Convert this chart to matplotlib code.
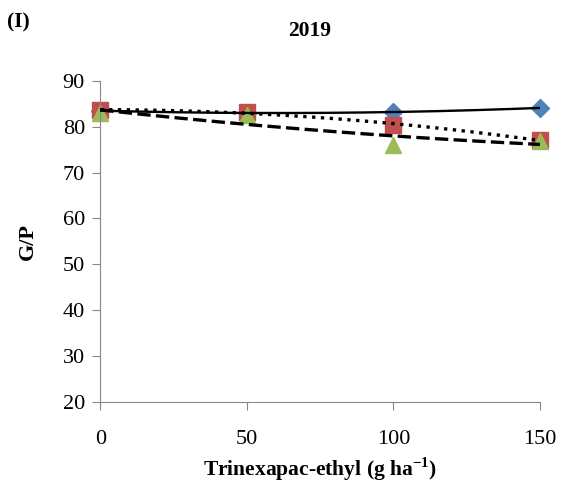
import numpy as np
import matplotlib
matplotlib.use("Agg")
from matplotlib import pyplot as plt

plt.rcParams['font.family'] = ['Liberation Serif', 'DejaVu Serif']

doses = [0, 50, 100, 150]
series_diamond = [83.5, 83.0, 83.2, 84.1]
series_square = [83.6, 83.3, 80.3, 77.1]
series_triangle = [83.0, 82.5, 76.0, 76.8]

fig = plt.figure(figsize=(5.63, 4.93), dpi=100)
ax = fig.add_axes([0.178, 0.185, 0.781, 0.651])

x_fine = np.linspace(0, 150, 200)
styles = [
    (series_diamond, 'D', '#4F81BD', '-', 1.7, 9.5),
    (series_square, 's', '#C0504D', ':', 2.4, 11.5),
    (series_triangle, '^', '#9BBB59', (0, (4, 1.6)), 2.4, 12),
]
for values, marker, color, ls, lw, ms in styles:
    ax.plot(doses, values, linestyle='none', marker=marker, color=color,
            markersize=ms, zorder=2, clip_on=False)
    coef = np.polyfit(doses, values, 2)
    ax.plot(x_fine, np.polyval(coef, x_fine), color='black', linestyle=ls,
            linewidth=lw, zorder=3)

ax.set_xlim(0, 150)
ax.set_ylim(20, 90)
ax.set_xticks([0, 50, 100, 150])
ax.set_yticks(range(20, 91, 10))

for side in ['top', 'right']:
    ax.spines[side].set_visible(False)
for side in ['left', 'bottom']:
    ax.spines[side].set_color('#888888')
ax.tick_params(colors='#888888', labelcolor='black', labelsize=16,
               length=6, direction='out')
ax.tick_params(axis='x', pad=14)
ax.tick_params(axis='y', pad=5)

ax.set_xlabel('Trinexapac-ethyl (g ha$^{\\mathregular{-1}}$)', fontsize=15.5,
              fontweight='bold', labelpad=5)
ax.set_ylabel('G/P', fontsize=16, fontweight='bold', labelpad=18)
fig.text(0.55, 0.937, '2019', ha='center', va='center', fontsize=15.5,
         fontweight='bold')
fig.text(0.012, 0.955, '(I)', ha='left', va='center', fontsize=15.5,
         fontweight='bold')

fig.savefig('out.png', dpi=100)
